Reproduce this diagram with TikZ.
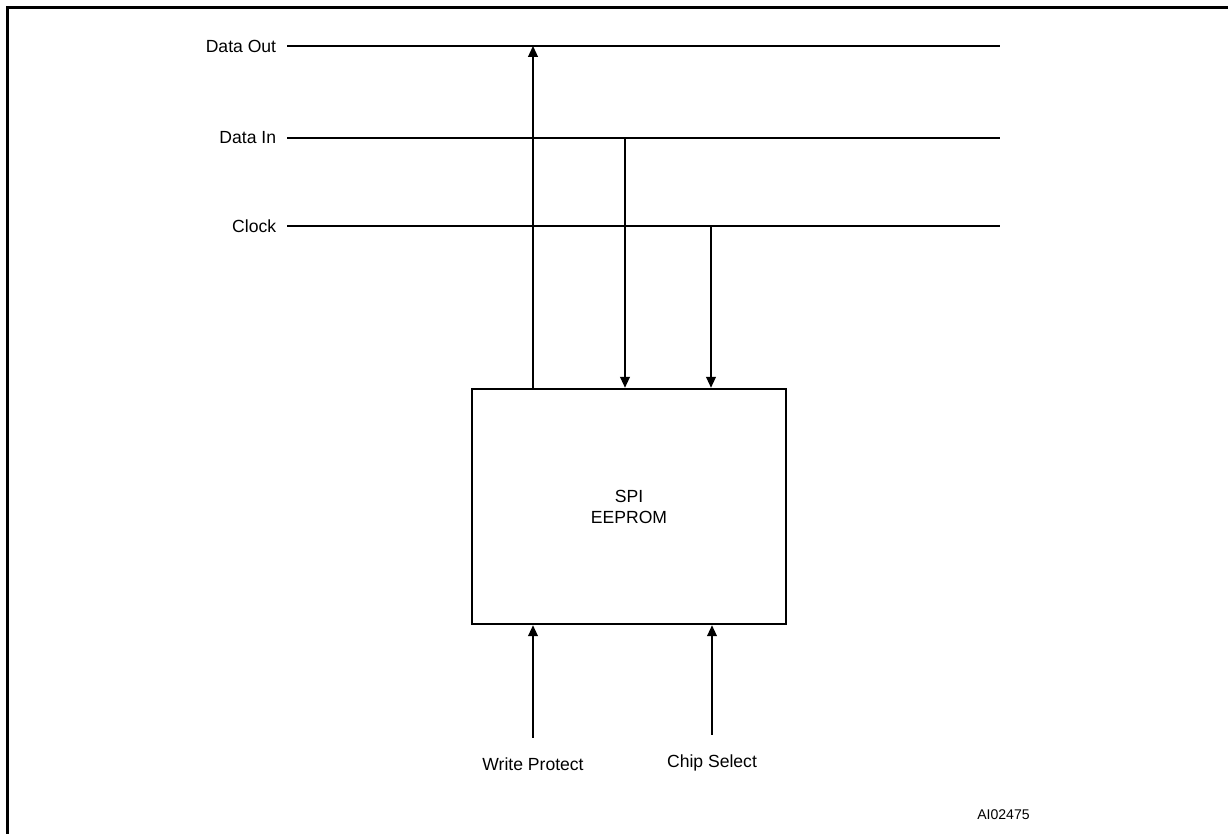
\documentclass[tikz,border=0pt]{standalone}
\usepackage{fontspec}
\setmainfont{Liberation Sans}
\usetikzlibrary{arrows.meta, positioning}
\tikzset{
  marco/.style={line width=1.4pt},
  chip/.style={rectangle, draw, line width=1.5pt, minimum width=6.28cm, minimum height=4.7cm,
               text centered, align=center, font=\fontsize{10}{12}\selectfont},
  etiqbus/.style={anchor=east, inner sep=0pt, outer xsep=6.2pt, outer ysep=0pt, font=\fontsize{10}{12}\selectfont},
  etiqpie/.style={anchor=base, inner sep=0pt, outer ysep=11pt, font=\fontsize{10}{12}\selectfont},
  bus/.style={line width=0.75pt},
  senal/.style={line width=0.75pt, -{Triangle[width=5.6pt,length=6.2pt]}}
}
\begin{document}
\begin{tikzpicture}[x=0.02cm, y=-0.02cm]
  \useasboundingbox (0,0) rectangle (1228,834);
  \draw [marco] (1228,7.5) -- (7.5,7.5) -- (7.5,834);
  \node (chip) [chip] at (629,506.5) {SPI\\EEPROM};
  % buses
  \node (dout) [etiqbus] at (287,46) {Data Out};
  \node (din) [etiqbus] at (287,138) {Data In};
  \node (clk) [etiqbus] at (287,226) {Clock};
  \coordinate (dout-fin) at (1000,46);
  \coordinate (din-fin) at (1000,138);
  \coordinate (clk-fin) at (1000,226);
  \draw [bus] (dout.east) -- (dout-fin);
  \draw [bus] (din.east) -- (din-fin);
  \draw [bus] (clk.east) -- (clk-fin);
  % derivaciones
  \coordinate (tap-dout) at (533,46);
  \coordinate (tap-din) at (625,138);
  \coordinate (tap-clk) at (711,226);
  \draw [senal] (chip.north -| tap-dout) -- (tap-dout);
  \draw [senal] (tap-din) -- (chip.north -| tap-din);
  \draw [senal] (tap-clk) -- (chip.north -| tap-clk);
  % entradas de abajo
  \node (wp) [etiqpie] at (533,770) {Write Protect};
  \node (cs) [etiqpie] at (712,767) {Chip Select};
  \draw [senal] (wp.north) -- (chip.south -| wp.north);
  \draw [senal] (cs.north) -- (chip.south -| cs.north);
  \node (ref) [anchor=base east, inner sep=0pt, font=\fontsize{8}{10}\selectfont] at (1030,819) {AI02475};
\end{tikzpicture}
\end{document}
